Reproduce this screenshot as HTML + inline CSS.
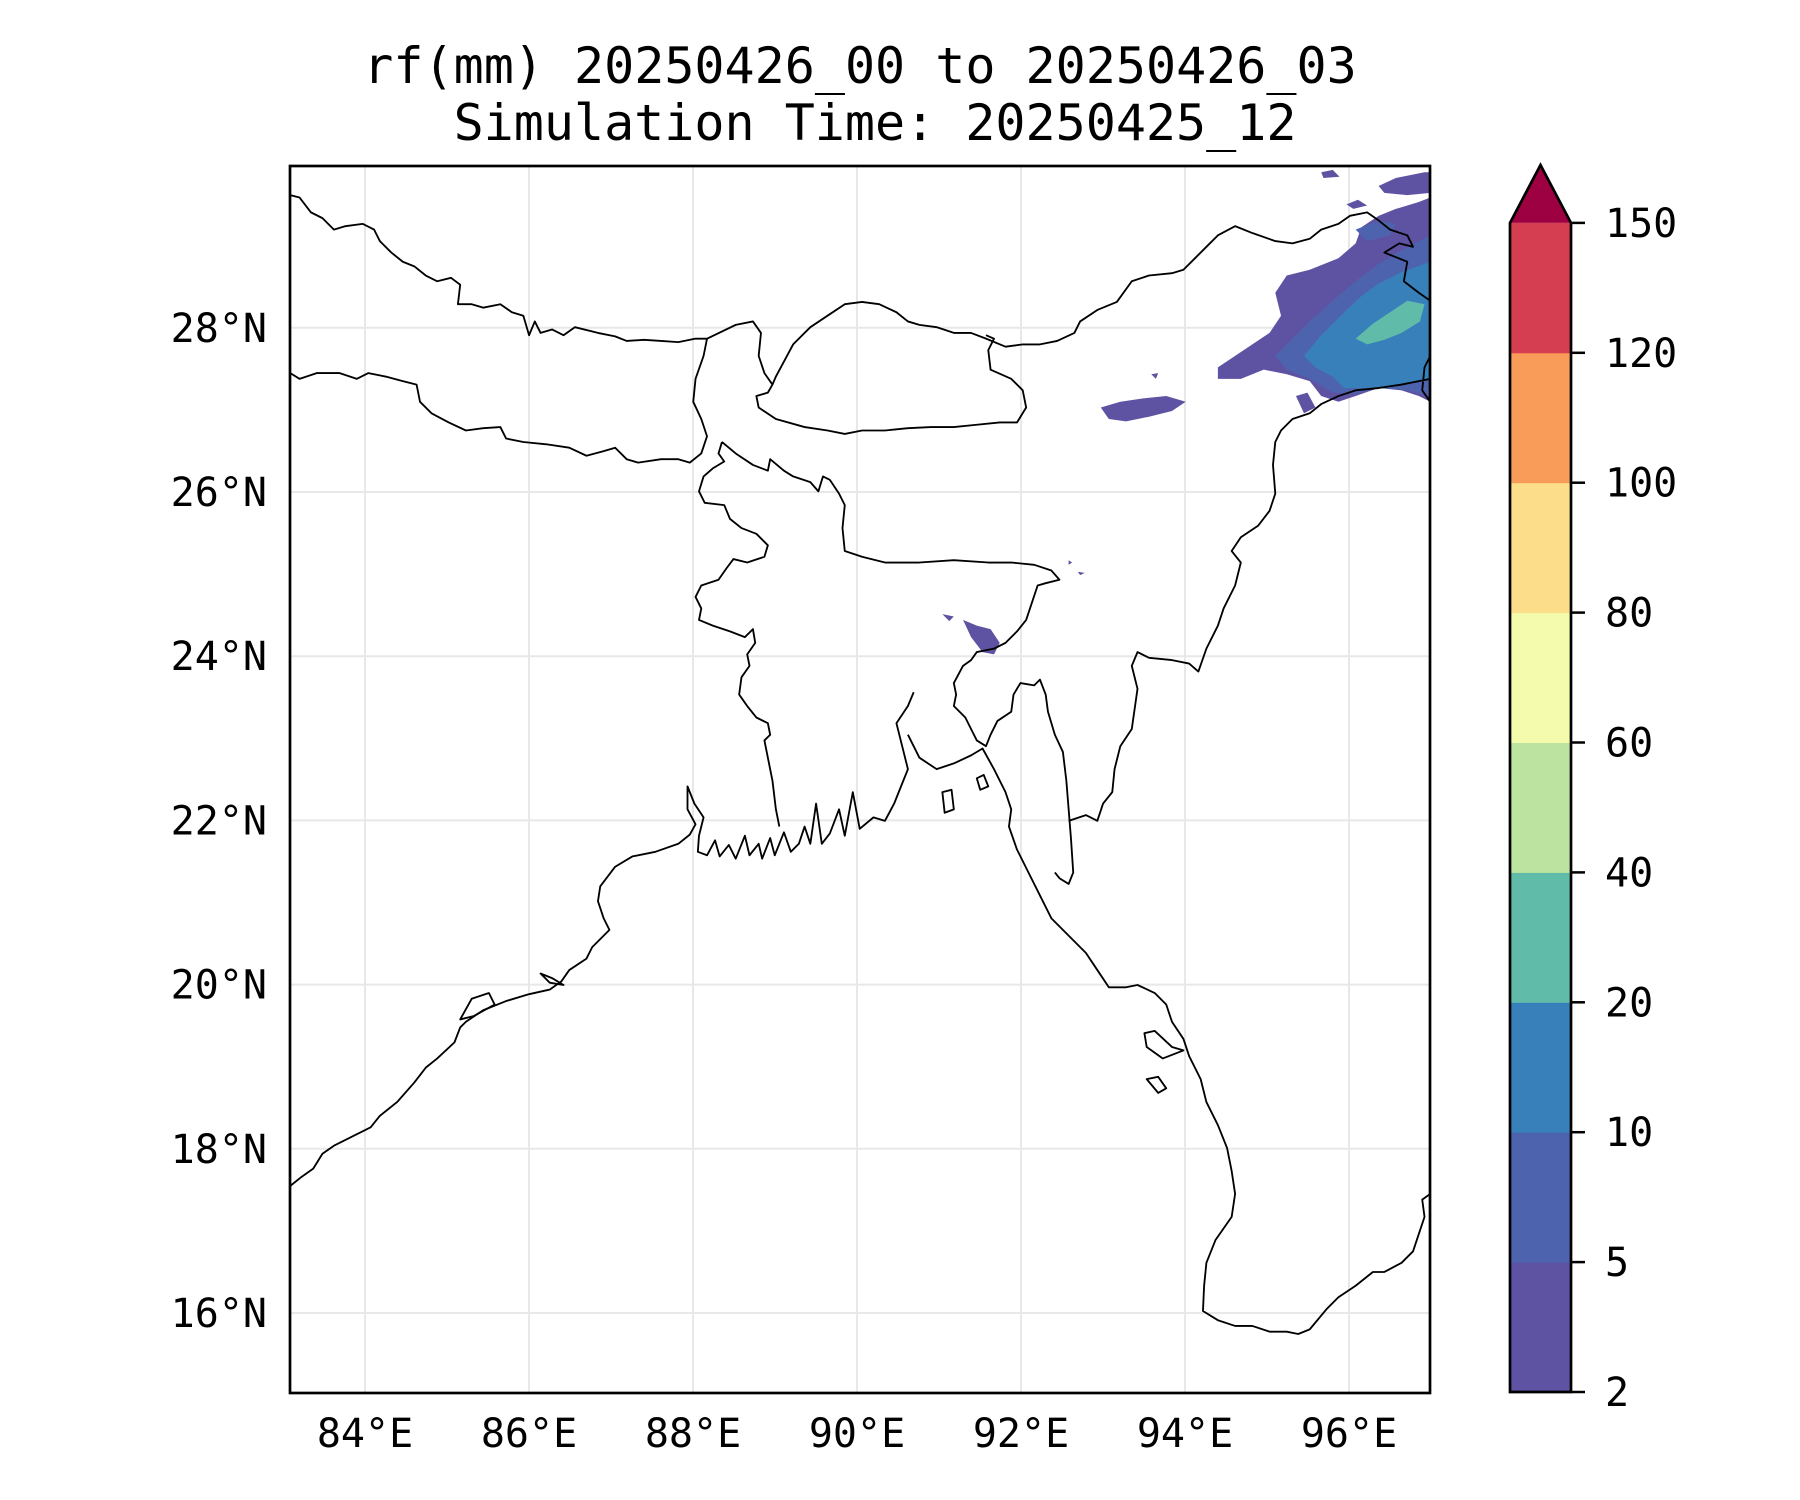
<!DOCTYPE html>
<html><head><meta charset="utf-8"><style>
html,body{margin:0;padding:0;background:#fff;}
svg{display:block;}
text{font-family:"DejaVu Sans Mono","Liberation Mono",monospace;fill:#000;}
</style></head><body>
<svg id="fig" width="1800" height="1500" viewBox="0 0 1800 1500" xmlns="http://www.w3.org/2000/svg">
<text x="860" y="83" font-size="50" text-anchor="middle">rf(mm) 20250426_00 to 20250426_03</text>
<text x="875" y="140" font-size="50" text-anchor="middle">Simulation Time: 20250425_12</text>
<g id="grid"></g>
<g transform="translate(1,0) scale(1.148)">
 <g>
  <path fill="#5e53a3" d="M1060,320 L1075,310 1090,300 1105,290 1115,275 1110,255 1120,240 1140,235 1165,225 1180,212 1185,198 1200,188 1215,182 1235,176 1245,172 L1245,350 1235,345 1220,340 1200,338 1180,345 1165,350 1150,345 1140,332 1120,326 1100,322 1080,330 1060,330 Z
  M1200,162 L1215,155 1240,150 1245,150 1245,168 1225,170 1205,168 Z
  M1150,150 L1160,148 1166,154 1152,155 Z M1172,178 L1182,174 1190,179 1178,182 Z
  M958,355 L975,350 995,347 1015,345 1032,350 1020,358 1000,363 980,367 965,365 Z
  M1128,345 L1138,342 1145,355 1135,360 Z M1002,326 L1008,325 1006,330 Z
  M838,540 L850,545 862,548 870,560 865,570 855,568 845,555 Z M820,535 L830,537 826,541 Z
  M930,488 L933,490 930,492 Z M938,498 L944,499 940,501 Z"/>
  <path fill="#4e63ad" d="M1110,310 L1125,295 1140,280 1160,262 1180,245 1200,230 1225,215 1245,205 L1245,345 1225,340 1200,338 1180,343 1160,342 1140,330 1120,322 Z M1180,200 L1200,192 1215,195 1210,205 1190,210 Z"/>
  <path fill="#3880ba" d="M1135,310 L1150,292 1170,272 1185,258 1200,247 1220,237 1245,228 L1245,330 1220,335 1190,338 1170,338 1160,328 1145,320 Z"/>
  <path fill="#60bca9" d="M1180,295 L1195,282 1210,272 1225,262 1240,265 1236,280 1220,290 1205,296 1190,300 Z"/>
 </g>
 <g fill="none" stroke="#000" stroke-width="1.6" stroke-linejoin="round">
  <path d="M252,170 L260,172 270,185 280,190 290,200 300,197 315,195 325,200 330,210 340,220 350,228 360,232 370,240 380,245 392,242 400,248 398,265 410,265 420,268 435,265 445,272 455,275 460,292 465,280 470,290 480,287 490,292 500,285 520,290 535,293 545,297 560,296 575,297 590,298 605,295 615,295 640,283 655,280 662,290 660,310 665,325 672,335 668,342 658,345 660,355 675,365 700,372 720,375 735,378 750,375 770,375 790,373 810,372 830,372 850,370 870,368 885,368 893,355 890,340 880,330 862,322 860,305 865,295 858,292"/>
  <path d="M672,335 L675,328 690,300 705,285 720,275 735,265 750,263 765,265 780,272 790,280 800,283 815,285 830,290 845,290 858,295 875,302 890,300 905,300 920,297 935,290 940,280 955,270 972,263 985,245 1000,240 1020,238 1030,235 1040,225 1050,215 1060,205 1075,197 1090,203 1110,210 1125,212 1140,208 1150,200 1165,195 1175,188 1190,185 1200,192 1210,200 1225,205 1230,215 1218,212 1205,220 1225,228 1222,245 1235,255 1245,262"/>
  <path d="M252,325 L260,330 275,325 295,325 310,330 320,325 335,328 350,332 362,335 365,350 375,360 390,368 405,375 420,373 435,372 440,382 455,385 475,387 495,390 510,397 525,393 535,390 545,400 555,403 575,400 590,400 600,403 610,395 615,380 610,365 603,350 605,330 612,310 615,295"/>
  <path d="M628,385 L625,395 630,402 620,408 612,415 608,428 613,438 630,440 635,452 645,460 658,465 668,475 665,485 650,490 638,487 632,495 625,505 610,510 605,520 610,530 608,540 620,545 635,550 648,555 655,548 657,560 650,570 652,580 645,590 643,605 650,615 658,625 668,630 670,640 665,645 668,660 672,680 675,705 678,720 M628,385 L640,395 655,405 668,410 670,400 682,410 690,415 705,420 712,428 716,415 722,418 730,430 735,440 733,460 735,480 750,485 770,490 800,490 830,488 860,490 880,490 900,492 915,497 922,505 910,508 903,510 898,525 893,540 885,550 875,560 865,565 850,568 845,575 838,580 830,595 832,605 830,615 840,625 845,635 850,645 858,650 862,640 868,628 880,620 882,605 888,595 900,597 905,592 910,605 912,620 918,640 925,655 928,680 930,705 932,730 934,760 930,770 922,765 918,760"/>
  <path d="M930,715 L945,710 955,715 960,700 968,690 970,670 975,650 985,635 990,600 985,580 990,568 1000,573 1020,575 1035,578 1043,585 1050,565 1060,545 1065,530 1075,510 1080,490 1072,480 1080,468 1095,458 1105,445 1110,430 1108,405 1110,385 1115,375 1125,365 1140,360 1150,352 1165,345 1180,340 1200,338 1220,335 1245,330 M1245,350 L1238,340 1240,320 1245,310"/>
  <path d="M252,1033 L262,1025 272,1018 280,1005 290,998 310,988 322,982 330,972 345,960 360,943 370,930 380,922 395,908 400,895 405,890 420,880 440,872 460,866 478,862 488,855 495,845 510,835 515,825 530,810 525,800 520,785 522,772 535,755 550,746 570,742 590,735 600,727 605,718 598,705 598,685 604,700 612,712 608,728 607,742 615,745 622,732 626,746 634,736 640,748 648,728 652,745 660,735 663,748 670,730 674,745 682,725 688,742 695,735 700,720 705,735 710,700 715,735 722,726 730,705 735,728 742,690 748,722 760,712 770,715 778,700 784,685 790,670 785,650 780,630 790,615 795,603 M790,640 L800,660 815,670 830,665 845,658 855,652 865,670 875,690 880,705 878,720 885,740 895,760 905,780 915,800 930,815 945,830 955,845 965,860 980,860 990,858 1005,865 1015,875 1020,890 1030,905 1035,920 1045,940 1050,960 1060,980 1068,1000 1072,1020 1075,1040 1072,1060 1065,1070 1058,1080 1050,1100 1048,1120 1047,1142 1060,1150 1075,1155 1090,1155 1105,1160 1120,1160 1130,1162 1140,1158 1155,1140 1165,1130 1180,1120 1195,1108 1205,1108 1220,1100 1230,1090 1235,1075 1240,1060 1238,1045 1245,1040"/>
  <path d="M400,888 L410,870 425,865 430,875 412,885 Z M850,678 L856,675 860,685 853,688 Z M820,690 L828,688 830,705 822,708 Z M998,940 L1008,938 1015,948 1008,952 Z M996,900 L1005,898 1020,912 1030,915 1012,922 998,912 Z M470,848 L480,852 490,858 478,856 Z"/>
 </g>
</g>
<rect x="290" y="166" width="1140" height="1227" fill="none" stroke="#000" stroke-width="2.7"/>
<g id="axes"></g>
<g id="cbar"></g>
<script>
const lonTicks=[84,86,88,90,92,94,96];
const latTicks=[16,18,20,22,24,26,28];
const cbLevels=[2,5,10,20,40,60,80,100,120,150];
const cbColors=["#5e53a3","#4e63ad","#3880ba","#60bca9","#bde3a0","#f4fbad","#fcdd8a","#f99c59","#d53d50"];
const cbOverColor="#9e0142";
const NS="http://www.w3.org/2000/svg";
function xOf(lon){return 365+(lon-84)*82;}
function yOf(lat){return 1313-(lat-16)*82.1;}
function mk(tag,attrs,parent){const e=document.createElementNS(NS,tag);for(const k in attrs)e.setAttribute(k,attrs[k]);parent.appendChild(e);return e;}
const gridG=document.getElementById('grid'),axesG=document.getElementById('axes'),cbarG=document.getElementById('cbar');
lonTicks.forEach(v=>{
 const l=mk('line',{x1:xOf(v),x2:xOf(v),y1:166,y2:1393,stroke:'#e8e8e8','stroke-width':2},gridG);
 
 
 const t=mk('text',{x:xOf(v),y:1447,'font-size':40,'text-anchor':'middle'},axesG);
 t.textContent=v+'°E';
 
 
});
latTicks.forEach(v=>{
 const l=mk('line',{x1:290,x2:1430,y1:yOf(v),y2:yOf(v),stroke:'#e8e8e8','stroke-width':2},gridG);
 
 
 const t=mk('text',{x:267,y:yOf(v)+14,'font-size':40,'text-anchor':'end'},axesG);
 t.textContent=v+'°N';
 
 
});
const cbX=1510,cbW=61,cbBot=1392,cbStep=129.9;
function cbY(i){return cbBot-i*cbStep;}
cbColors.forEach((c,i)=>{
 const r=mk('rect',{x:cbX,y:cbY(i+1),width:cbW,height:cbStep+0.5,fill:c},cbarG);
 
 
});
const cbTopY=cbY(cbLevels.length-1);
const tri=mk('path',{d:`M${cbX},${cbTopY} L${cbX+cbW/2},165 L${cbX+cbW},${cbTopY} Z`,fill:cbOverColor},cbarG);


const out=mk('path',{d:`M${cbX},${cbBot} L${cbX},${cbTopY} L${cbX+cbW/2},165 L${cbX+cbW},${cbTopY} L${cbX+cbW},${cbBot} Z`,fill:'none',stroke:'#000','stroke-width':2.7},cbarG);


cbLevels.forEach((v,i)=>{
 const tk=mk('line',{x1:cbX+cbW,x2:cbX+cbW+14,y1:cbY(i),y2:cbY(i),stroke:'#000','stroke-width':2.5},cbarG);
 
 
 const t=mk('text',{x:1605,y:cbY(i)+14,'font-size':40},cbarG);
 t.textContent=v;
 
 
});
</script>
</svg>
</body></html>
